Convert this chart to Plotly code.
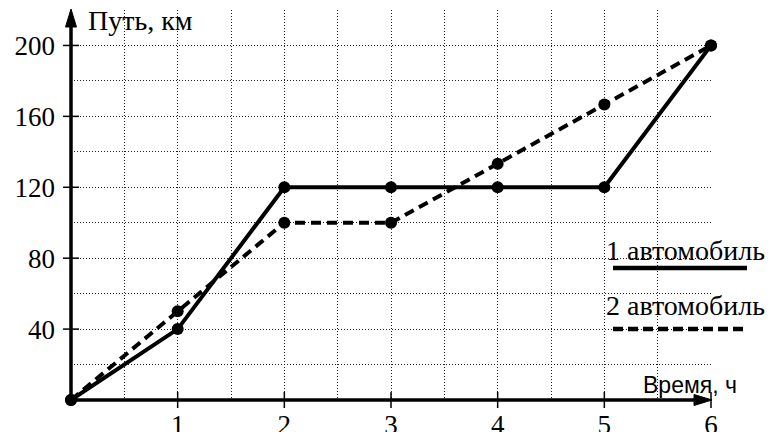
import plotly.graph_objects as go

# ---- data ----
hours = [0, 1, 2, 3, 4, 5, 6]
car1_km = [0, 40, 120, 120, 120, 120, 200]
car2_km = [0, 50, 100, 100, 133.3, 166.7, 200]
x_tick_vals = [1, 2, 3, 4, 5, 6]
y_tick_vals = [40, 80, 120, 160, 200]
y_title = "Путь, км"
x_title = "Время, ч"
series_names = ["1 автомобиль", "2 автомобиль"]

X_MAX, Y_MAX = 6, 220
W, H = 777, 432
L, R, T, B = 71, 711, 10, 400  # plot area in pixels

SERIF = "Liberation Serif"
SANS = "Liberation Sans"
GRID = "#222222"
FS = 27


def px_x(px):
    return (px - L) / (R - L)


def px_y(py):
    return (B - py) / (B - T)


fig = go.Figure()
fig.add_trace(go.Scatter(
    x=hours, y=car2_km, mode="lines+markers", name=series_names[1],
    line=dict(color="black", width=4, dash="10px,6px"),
    marker=dict(size=12, color="black"), cliponaxis=False, showlegend=False))
fig.add_trace(go.Scatter(
    x=hours, y=car1_km, mode="lines+markers", name=series_names[0],
    line=dict(color="black", width=4),
    marker=dict(size=12, color="black"), cliponaxis=False, showlegend=False))

shapes = []
# axes lines
shapes.append(dict(type="line", xref="paper", yref="paper",
                   x0=0, x1=0, y0=px_y(403), y1=px_y(24),
                   line=dict(color="black", width=3.5)))
shapes.append(dict(type="line", xref="paper", yref="paper",
                   x0=px_x(69), x1=px_x(698), y0=0, y1=0,
                   line=dict(color="black", width=3.5)))
# arrow heads
shapes.append(dict(type="path", xref="paper", yref="paper",
                   path=f"M {px_x(65.5)} {px_y(27)} L {px_x(71)} {px_y(9)} L {px_x(76.5)} {px_y(27)} Z",
                   fillcolor="black", line=dict(color="black", width=1)))
shapes.append(dict(type="path", xref="paper", yref="paper",
                   path=f"M {px_x(694)} {px_y(394.5)} L {px_x(712)} {px_y(400)} L {px_x(694)} {px_y(405.5)} Z",
                   fillcolor="black", line=dict(color="black", width=1)))
# tick marks crossing the axes
for v in y_tick_vals:
    shapes.append(dict(type="line", xref="paper", yref="paper",
                       x0=px_x(63), x1=px_x(79), y0=v / Y_MAX, y1=v / Y_MAX,
                       line=dict(color="black", width=1.5)))
for v in x_tick_vals:
    shapes.append(dict(type="line", xref="paper", yref="paper",
                       x0=v / X_MAX, x1=v / X_MAX, y0=px_y(408), y1=px_y(392),
                       line=dict(color="black", width=1.5)))
# legend samples
shapes.append(dict(type="line", xref="paper", yref="paper",
                   x0=px_x(613), x1=px_x(747), y0=px_y(268), y1=px_y(268),
                   line=dict(color="black", width=4.5)))
shapes.append(dict(type="line", xref="paper", yref="paper",
                   x0=px_x(613), x1=px_x(745), y0=px_y(329), y1=px_y(329),
                   line=dict(color="black", width=4.5, dash="10px,5px")))

annotations = [
    dict(xref="paper", yref="paper", x=px_x(86), y=px_y(20), xanchor="left",
         yanchor="middle", text=y_title, showarrow=False,
         font=dict(family=SERIF, size=FS + 1, color="black")),
    dict(xref="paper", yref="paper", x=px_x(739), y=px_y(385), xanchor="right",
         yanchor="middle", text=x_title, showarrow=False,
         font=dict(family=SANS, size=23, color="black")),
    dict(xref="paper", yref="paper", x=px_x(767), y=px_y(250), xanchor="right",
         yanchor="middle", text=series_names[0], showarrow=False,
         font=dict(family=SERIF, size=FS + 1, color="black")),
    dict(xref="paper", yref="paper", x=px_x(767), y=px_y(305), xanchor="right",
         yanchor="middle", text=series_names[1], showarrow=False,
         font=dict(family=SERIF, size=FS + 1, color="black")),
]

grid_common = dict(showgrid=True, gridcolor=GRID, gridwidth=1, griddash="1px,2px")

fig.update_layout(
    width=W, height=H, autosize=False,
    margin=dict(l=L, r=W - R, t=T, b=H - B, pad=0),
    plot_bgcolor="white", paper_bgcolor="white",
    shapes=shapes, annotations=annotations,
    xaxis=dict(range=[0, X_MAX], tickvals=x_tick_vals, ticks="",
               zeroline=False, showline=False, fixedrange=True, automargin=False,
               tickfont=dict(family=SERIF, size=FS, color="black"),
               ticklabelstandoff=6,
               minor=dict(dtick=0.5, tick0=0, ticks="", **grid_common),
               **grid_common),
    yaxis=dict(range=[0, Y_MAX], tickvals=y_tick_vals, ticks="",
               zeroline=False, showline=False, fixedrange=True, automargin=False,
               tickfont=dict(family=SERIF, size=FS, color="black"),
               ticklabelstandoff=15,
               minor=dict(dtick=20, tick0=0, ticks="", **grid_common),
               **grid_common),
)

fig.write_html("out.html", config=dict(displayModeBar=False),
               post_script="document.body.style.margin='0';document.body.style.overflow='hidden';")
